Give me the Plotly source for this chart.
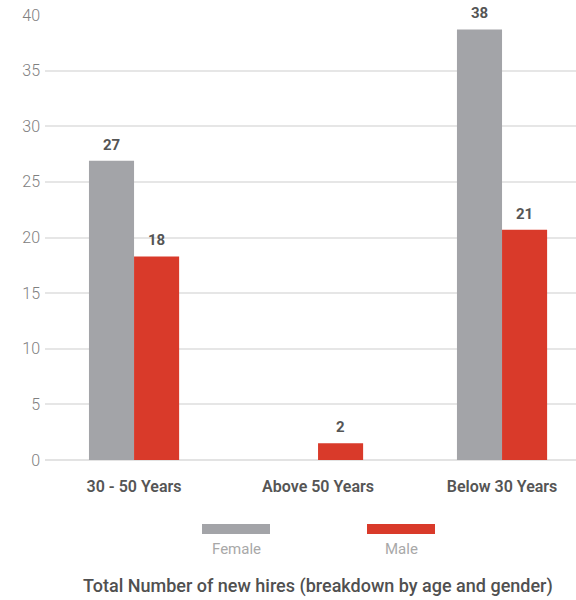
import plotly.graph_objects as go

categories = ["30 - 50 Years", "Above 50 Years", "Below 30 Years"]
series_names = ["Female", "Male"]
female_values = [26.9, 0, 38.7]
male_values = [18.3, 1.5, 20.7]
female_labels = ["27", "", "38"]
male_labels = ["18", "2", "21"]
y_ticks = [0, 5, 10, 15, 20, 25, 30, 35, 40]
chart_title = "Total Number of new hires (breakdown by age and gender)"

colors = ["#a3a4a8", "#d93a2a"]
FONT = "Roboto"

W, H = 576, 600
ML, MR, MT, MB = 45, 0, 15, 140
PW, PH = W - ML - MR, H - MT - MB


def px_x(x):
    return (x - ML) / PW


def px_y(y):
    return (H - MB - y) / PH


xs = list(range(len(categories)))
fig = go.Figure()
for name, vals, col in zip(series_names, [female_values, male_values], colors):
    fig.add_trace(go.Bar(x=xs, y=vals, name=name, marker=dict(color=col, line=dict(width=0)),
                         showlegend=False))

bar_w = 0.245
annotations = []
for k, labels in enumerate([female_labels, male_labels]):
    vals = [female_values, male_values][k]
    off = (k - 0.5) * bar_w
    for i, (v, t) in enumerate(zip(vals, labels)):
        if t:
            annotations.append(dict(x=i + off, y=v, xref="x", yref="y", text=t, showarrow=False,
                                    yanchor="bottom", yshift=5,
                                    font=dict(family=FONT, size=15, color="#555555", weight=700)))

# custom legend: wide swatches with names below
legend_centers = [236, 401]
shapes = []
for name, col, cx in zip(series_names, colors, legend_centers):
    shapes.append(dict(type="rect", xref="paper", yref="paper",
                       x0=px_x(cx - 34), x1=px_x(cx + 34), y0=px_y(534), y1=px_y(524),
                       fillcolor=col, line=dict(width=0)))
    annotations.append(dict(x=px_x(cx), y=px_y(549), xref="paper", yref="paper", text=name,
                            showarrow=False, yanchor="middle", xanchor="center",
                            font=dict(family=FONT, size=15, color="#a8a8a8")))

annotations.append(dict(x=px_x(318), y=px_y(586), xref="paper", yref="paper", text=chart_title,
                        showarrow=False, yanchor="middle", xanchor="center",
                        font=dict(family=FONT, size=18, color="#505050", weight=500)))

fig.update_layout(
    width=W, height=H,
    margin=dict(l=ML, r=MR, t=MT, b=MB, pad=0),
    paper_bgcolor="white", plot_bgcolor="white",
    barmode="group", bargap=0.51, bargroupgap=0,
    shapes=shapes, annotations=annotations,
    xaxis=dict(range=[-0.484, 2.402], tickmode="array", tickvals=xs, ticktext=categories,
               showgrid=False, zeroline=False, showline=False, ticks="",
               ticklabelstandoff=15,
               tickfont=dict(family=FONT, size=16, color="#555555", weight=600)),
    yaxis=dict(range=[0, 40], tickmode="array", tickvals=y_ticks, showgrid=True,
               gridcolor="#e6e6e6", gridwidth=1.5, zeroline=True, zerolinecolor="#e3e3e3",
               zerolinewidth=2, showline=False, ticks="", ticklabelstandoff=4,
               tickfont=dict(family=FONT, size=16, color="#808080", weight=300)),
)

fig.write_html("out.html")
